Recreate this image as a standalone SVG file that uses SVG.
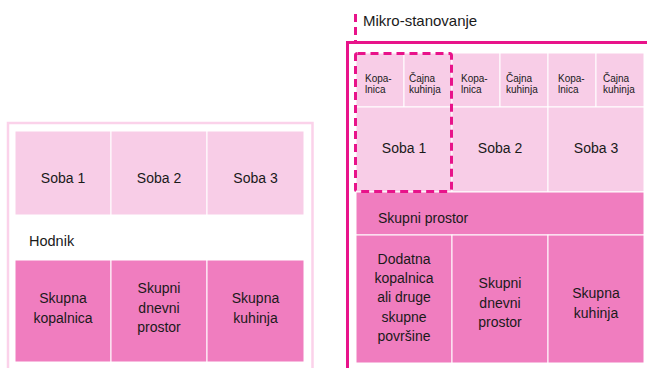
<svg xmlns="http://www.w3.org/2000/svg" width="647" height="368" viewBox="0 0 647 368">
<style>
text{font-family:"Liberation Sans",Arial,sans-serif;fill:#1a1a1a;}
.t{font-size:14px;text-anchor:middle;}
.s{font-size:10px;}
.l{fill:#f8cde7;stroke:#fff;stroke-width:1;}
.d{fill:#f07dbf;stroke:#fff;stroke-width:1;}
</style>
<rect x="0" y="0" width="647" height="368" fill="#fff"/>
<!-- left plan -->
<g id="left-outline"><path d="M8,368 V123 H312.5 V368" fill="none" stroke="#fbd2ea" stroke-width="2.5"/></g>
<g id="L-soba1"><rect class="l" x="15" y="131" width="96" height="84"/><text class="t" x="63" y="183">Soba 1</text></g>
<g id="L-soba2"><rect class="l" x="111" y="131" width="96" height="84"/><text class="t" x="159" y="183">Soba 2</text></g>
<g id="L-soba3"><rect class="l" x="207" y="131" width="97" height="84"/><text class="t" x="255.5" y="183">Soba 3</text></g>
<g id="L-hodnik"><text x="29" y="246" font-size="14.5">Hodnik</text></g>
<g id="L-kopalnica"><rect class="d" x="15" y="260" width="96" height="102"/><text class="t" x="63" y="303">Skupna</text><text class="t" x="63" y="323">kopalnica</text></g>
<g id="L-dnevni"><rect class="d" x="111" y="260" width="96" height="102"/><text class="t" x="159" y="293">Skupni</text><text class="t" x="159" y="313">dnevni</text><text class="t" x="159" y="332">prostor</text></g>
<g id="L-kuhinja"><rect class="d" x="207" y="260" width="97" height="102"/><text class="t" x="255.5" y="303">Skupna</text><text class="t" x="255.5" y="323">kuhinja</text></g>
<!-- right plan -->
<g id="right-outline"><path d="M347.5,368 V42.5 H647" fill="none" stroke="#e8138a" stroke-width="3"/></g>
<g id="R-k1"><rect class="l" x="356" y="53" width="48" height="54"/><text class="s" x="365" y="82">Kopa-</text><text class="s" x="365" y="93">lnica</text></g>
<g id="R-c1"><rect class="l" x="404" y="53" width="48" height="54"/><text class="s" x="409" y="82">Čajna</text><text class="s" x="409" y="93">kuhinja</text></g>
<g id="R-k2"><rect class="l" x="452" y="53" width="48" height="54"/><text class="s" x="461" y="82">Kopa-</text><text class="s" x="461" y="93">lnica</text></g>
<g id="R-c2"><rect class="l" x="500" y="53" width="48" height="54"/><text class="s" x="506" y="82">Čajna</text><text class="s" x="506" y="93">kuhinja</text></g>
<g id="R-k3"><rect class="l" x="548" y="53" width="48" height="54"/><text class="s" x="558" y="82">Kopa-</text><text class="s" x="558" y="93">lnica</text></g>
<g id="R-c3"><rect class="l" x="596" y="53" width="48" height="54"/><text class="s" x="603" y="82">Čajna</text><text class="s" x="603" y="93">kuhinja</text></g>
<g id="R-soba1"><rect class="l" x="356" y="107" width="96" height="85"/><text class="t" x="404" y="153">Soba 1</text></g>
<g id="R-soba2"><rect class="l" x="452" y="107" width="96" height="85"/><text class="t" x="500" y="153">Soba 2</text></g>
<g id="R-soba3"><rect class="l" x="548" y="107" width="96" height="85"/><text class="t" x="596" y="153">Soba 3</text></g>
<g id="R-skupni-prostor"><rect class="d" x="356" y="192" width="288" height="43"/><text x="378" y="223" font-size="14">Skupni prostor</text></g>
<g id="R-dodatna"><rect class="d" x="356" y="235" width="96" height="128"/><text class="t" x="404" y="264">Dodatna</text><text class="t" x="404" y="283">kopalnica</text><text class="t" x="404" y="302">ali druge</text><text class="t" x="404" y="322">skupne</text><text class="t" x="404" y="341">površine</text></g>
<g id="R-dnevni"><rect class="d" x="452" y="235" width="96" height="128"/><text class="t" x="500" y="288">Skupni</text><text class="t" x="500" y="308">dnevni</text><text class="t" x="500" y="327">prostor</text></g>
<g id="R-kuhinja"><rect class="d" x="548" y="235" width="96" height="128"/><text class="t" x="596" y="298">Skupna</text><text class="t" x="596" y="318">kuhinja</text></g>
<g id="mikro-unit"><rect x="355.5" y="53.5" width="96" height="138" rx="2" fill="none" stroke="#e8138a" stroke-width="3" stroke-dasharray="8,5"/></g>
<g id="mikro-label"><text x="363" y="26" font-size="15">Mikro-stanovanje</text></g>
<g id="connectors"><line x1="355.5" y1="14" x2="355.5" y2="41" stroke="#e8138a" stroke-width="3" stroke-dasharray="8,5"/></g>
</svg>
